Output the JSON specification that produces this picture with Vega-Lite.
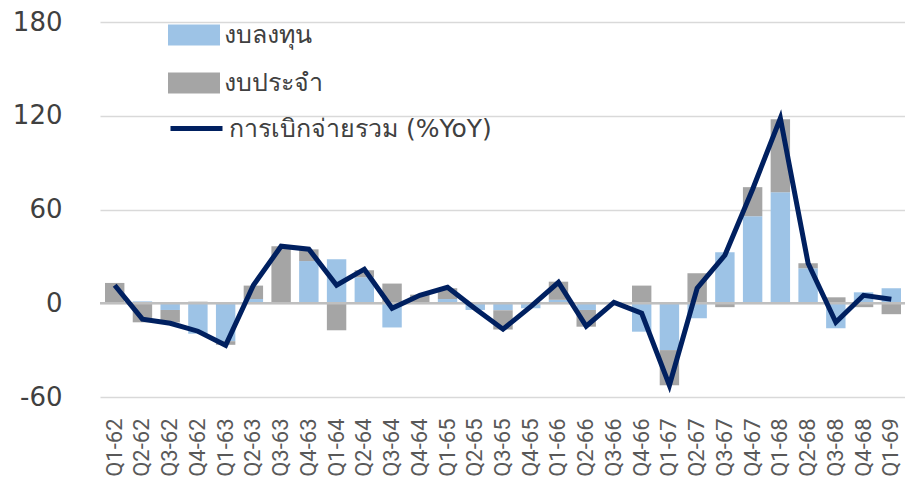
{
  "$schema": "https://vega.github.io/schema/vega-lite/v6.json",
  "autosize": "none",
  "width": 806,
  "height": 375,
  "padding": {"left": 100, "top": 22, "right": 0, "bottom": 83},
  "background": "white",
  "config": {
    "view": {"stroke": null},
    "font": "DejaVu Sans",
    "axis": {"labelColor": "#404040", "domain": false, "ticks": false, "title": null}
  },
  "datasets": {
    "bars": [
      {"q": "Q1-62", "series": "งบลงทุน", "value": 0},
      {"q": "Q1-62", "series": "งบประจำ", "value": 13},
      {"q": "Q2-62", "series": "งบลงทุน", "value": 1.2},
      {"q": "Q2-62", "series": "งบประจำ", "value": -12.2},
      {"q": "Q3-62", "series": "งบลงทุน", "value": -4.3},
      {"q": "Q3-62", "series": "งบประจำ", "value": -8},
      {"q": "Q4-62", "series": "งบลงทุน", "value": -19.5},
      {"q": "Q4-62", "series": "งบประจำ", "value": 1},
      {"q": "Q1-63", "series": "งบลงทุน", "value": -24.3},
      {"q": "Q1-63", "series": "งบประจำ", "value": -2.3},
      {"q": "Q2-63", "series": "งบลงทุน", "value": 2.7},
      {"q": "Q2-63", "series": "งบประจำ", "value": 8.6},
      {"q": "Q3-63", "series": "งบลงทุน", "value": 0},
      {"q": "Q3-63", "series": "งบประจำ", "value": 36.5},
      {"q": "Q4-63", "series": "งบลงทุน", "value": 27},
      {"q": "Q4-63", "series": "งบประจำ", "value": 7.5},
      {"q": "Q1-64", "series": "งบลงทุน", "value": 28.2},
      {"q": "Q1-64", "series": "งบประจำ", "value": -17.3},
      {"q": "Q2-64", "series": "งบลงทุน", "value": 16.6},
      {"q": "Q2-64", "series": "งบประจำ", "value": 4.5},
      {"q": "Q3-64", "series": "งบลงทุน", "value": -15.5},
      {"q": "Q3-64", "series": "งบประจำ", "value": 12.6},
      {"q": "Q4-64", "series": "งบลงทุน", "value": 0},
      {"q": "Q4-64", "series": "งบประจำ", "value": 5.5},
      {"q": "Q1-65", "series": "งบลงทุน", "value": 2.7},
      {"q": "Q1-65", "series": "งบประจำ", "value": 6.9},
      {"q": "Q2-65", "series": "งบลงทุน", "value": -4.3},
      {"q": "Q2-65", "series": "งบประจำ", "value": 0},
      {"q": "Q3-65", "series": "งบลงทุน", "value": -4.5},
      {"q": "Q3-65", "series": "งบประจำ", "value": -12.3},
      {"q": "Q4-65", "series": "งบลงทุน", "value": -3.2},
      {"q": "Q4-65", "series": "งบประจำ", "value": 0},
      {"q": "Q1-66", "series": "งบลงทุน", "value": 2.2},
      {"q": "Q1-66", "series": "งบประจำ", "value": 11.6},
      {"q": "Q2-66", "series": "งบลงทุน", "value": -4.3},
      {"q": "Q2-66", "series": "งบประจำ", "value": -10.7},
      {"q": "Q3-66", "series": "งบลงทุน", "value": 0.3},
      {"q": "Q3-66", "series": "งบประจำ", "value": 0},
      {"q": "Q4-66", "series": "งบลงทุน", "value": -18.2},
      {"q": "Q4-66", "series": "งบประจำ", "value": 11.3},
      {"q": "Q1-67", "series": "งบลงทุน", "value": -30},
      {"q": "Q1-67", "series": "งบประจำ", "value": -22.5},
      {"q": "Q2-67", "series": "งบลงทุน", "value": -9.6},
      {"q": "Q2-67", "series": "งบประจำ", "value": 19.2},
      {"q": "Q3-67", "series": "งบลงทุน", "value": 32.7},
      {"q": "Q3-67", "series": "งบประจำ", "value": -2.5},
      {"q": "Q4-67", "series": "งบลงทุน", "value": 55.7},
      {"q": "Q4-67", "series": "งบประจำ", "value": 18.6},
      {"q": "Q1-68", "series": "งบลงทุน", "value": 71},
      {"q": "Q1-68", "series": "งบประจำ", "value": 46.8},
      {"q": "Q2-68", "series": "งบลงทุน", "value": 22.4},
      {"q": "Q2-68", "series": "งบประจำ", "value": 3.2},
      {"q": "Q3-68", "series": "งบลงทุน", "value": -16},
      {"q": "Q3-68", "series": "งบประจำ", "value": 3.8},
      {"q": "Q4-68", "series": "งบลงทุน", "value": 7},
      {"q": "Q4-68", "series": "งบประจำ", "value": -2.5},
      {"q": "Q1-69", "series": "งบลงทุน", "value": 9.6},
      {"q": "Q1-69", "series": "งบประจำ", "value": -7}
    ],
    "line": [
      {"q": "Q1-62", "series": "การเบิกจ่ายรวม (%YoY)", "total": 11.5},
      {"q": "Q2-62", "series": "การเบิกจ่ายรวม (%YoY)", "total": -10.2},
      {"q": "Q3-62", "series": "การเบิกจ่ายรวม (%YoY)", "total": -12.8},
      {"q": "Q4-62", "series": "การเบิกจ่ายรวม (%YoY)", "total": -17.9},
      {"q": "Q1-63", "series": "การเบิกจ่ายรวม (%YoY)", "total": -26.9},
      {"q": "Q2-63", "series": "การเบิกจ่ายรวม (%YoY)", "total": 11.5},
      {"q": "Q3-63", "series": "การเบิกจ่ายรวม (%YoY)", "total": 36.5},
      {"q": "Q4-63", "series": "การเบิกจ่ายรวม (%YoY)", "total": 34.6},
      {"q": "Q1-64", "series": "การเบิกจ่ายรวม (%YoY)", "total": 11.5},
      {"q": "Q2-64", "series": "การเบิกจ่ายรวม (%YoY)", "total": 21.8},
      {"q": "Q3-64", "series": "การเบิกจ่ายรวม (%YoY)", "total": -3.2},
      {"q": "Q4-64", "series": "การเบิกจ่ายรวม (%YoY)", "total": 5.1},
      {"q": "Q1-65", "series": "การเบิกจ่ายรวม (%YoY)", "total": 10.2},
      {"q": "Q2-65", "series": "การเบิกจ่ายรวม (%YoY)", "total": -3.5},
      {"q": "Q3-65", "series": "การเบิกจ่ายรวม (%YoY)", "total": -16.6},
      {"q": "Q4-65", "series": "การเบิกจ่ายรวม (%YoY)", "total": -2.2},
      {"q": "Q1-66", "series": "การเบิกจ่ายรวม (%YoY)", "total": 13.4},
      {"q": "Q2-66", "series": "การเบิกจ่ายรวม (%YoY)", "total": -14.7},
      {"q": "Q3-66", "series": "การเบิกจ่ายรวม (%YoY)", "total": 0.6},
      {"q": "Q4-66", "series": "การเบิกจ่ายรวม (%YoY)", "total": -6.4},
      {"q": "Q1-67", "series": "การเบิกจ่ายรวม (%YoY)", "total": -52.5},
      {"q": "Q2-67", "series": "การเบิกจ่ายรวม (%YoY)", "total": 9.6},
      {"q": "Q3-67", "series": "การเบิกจ่ายรวม (%YoY)", "total": 30.7},
      {"q": "Q4-67", "series": "การเบิกจ่ายรวม (%YoY)", "total": 73},
      {"q": "Q1-68", "series": "การเบิกจ่ายรวม (%YoY)", "total": 118.4},
      {"q": "Q2-68", "series": "การเบิกจ่ายรวม (%YoY)", "total": 25.6},
      {"q": "Q3-68", "series": "การเบิกจ่ายรวม (%YoY)", "total": -12.2},
      {"q": "Q4-68", "series": "การเบิกจ่ายรวม (%YoY)", "total": 5.1},
      {"q": "Q1-69", "series": "การเบิกจ่ายรวม (%YoY)", "total": 2.6}
    ]
  },
  "layer": [
    {
      "data": {"name": "bars"},
      "mark": {"type": "bar"},
      "encoding": {
        "x": {
          "field": "q",
          "type": "ordinal",
          "sort": null,
          "scale": {"paddingInner": 0.3, "paddingOuter": 0.18},
          "axis": {"labelAngle": -90, "labelFont": "Roboto", "labelFontSize": 22, "labelColor": "#595959", "labelPadding": 21, "grid": false}
        },
        "y": {
          "field": "value",
          "type": "quantitative",
          "stack": "zero",
          "scale": {"domain": [-60, 180], "nice": false},
          "axis": {"values": [-60, 0, 60, 120, 180], "labelExpr": "replace(datum.label, '−', '-')", "labelFontSize": 26, "labelPadding": 38, "gridColor": "#D9D9D9", "gridWidth": 1.5}
        },
        "fill": {
          "field": "series",
          "type": "nominal",
          "scale": {"domain": ["งบลงทุน", "งบประจำ"], "range": ["#9DC3E6", "#A5A5A5"]},
          "legend": {
            "orient": "none", "legendX": 68, "legendY": -13, "title": null,
            "symbolType": "M-1,-0.4H1V0.4H-1Z", "symbolSize": 2704, "symbolStrokeWidth": 0,
            "labelFontSize": 25, "labelColor": "#404040", "labelOffset": 4, "rowPadding": 9, "labelLimit": 0
          }
        },
        "order": {"field": "series", "sort": "descending"}
      }
    },
    {
      "data": {"values": [{}]},
      "mark": {"type": "rule", "color": "#BFBFBF", "strokeWidth": 2.5},
      "encoding": {"y": {"datum": 0}}
    },
    {
      "data": {"name": "line"},
      "mark": {"type": "line", "strokeWidth": 5, "strokeJoin": "miter"},
      "encoding": {
        "x": {"field": "q", "type": "ordinal", "sort": null},
        "y": {"field": "total", "type": "quantitative"},
        "stroke": {
          "field": "series",
          "type": "nominal",
          "scale": {"range": ["#002060"]},
          "legend": {
            "orient": "none", "legendX": 68, "legendY": 78, "title": null,
            "symbolType": "M-1,0H1", "symbolSize": 2704, "symbolStrokeWidth": 5,
            "labelFontSize": 25, "labelColor": "#404040", "labelOffset": 4, "labelLimit": 0
          }
        }
      }
    }
  ]
}
